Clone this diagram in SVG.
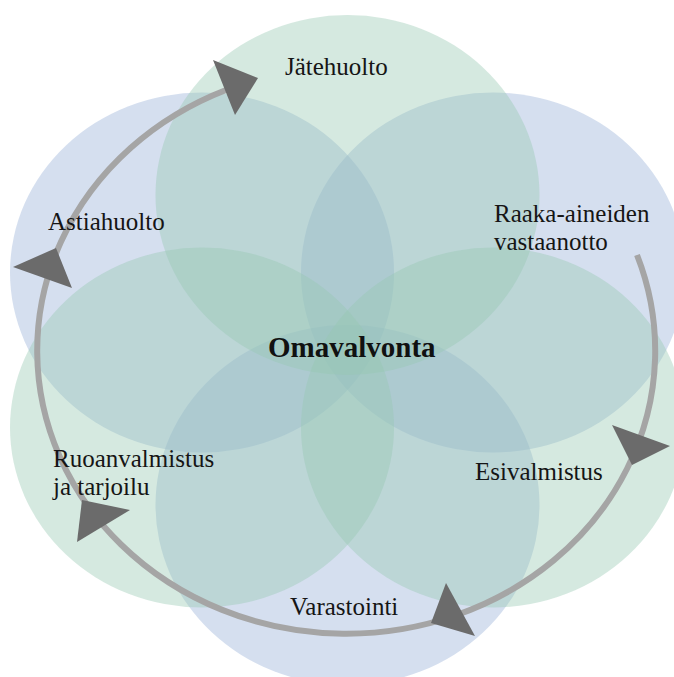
<svg xmlns="http://www.w3.org/2000/svg" width="674" height="677" viewBox="0 0 674 677">
<style>
.g{fill:#96c8b1;fill-opacity:0.4}
.b{fill:#96afd7;fill-opacity:0.4}
.lbl{font-family:"Liberation Serif","Times New Roman",serif;font-size:25px;fill:#151515}
.ctr{font-family:"Liberation Serif","Times New Roman",serif;font-size:29px;font-weight:bold;fill:#111}
.arc{fill:none;stroke:#a5a5a5;stroke-width:6}
.head{fill:#6b6b6b}
</style>
<rect width="674" height="677" fill="#ffffff"/>
<g id="shapes">
<g id="node-raaka"><ellipse class="b" cx="493" cy="272.5" rx="192" ry="180"/></g>
<g id="node-varastointi"><ellipse class="b" cx="347.5" cy="505" rx="192" ry="180"/></g>
<g id="node-astiahuolto"><ellipse class="b" cx="202" cy="272.5" rx="192" ry="180"/></g>
<g id="node-jatehuolto"><ellipse class="g" cx="347.5" cy="195" rx="192" ry="180"/></g>
<g id="node-esivalmistus"><ellipse class="g" cx="493" cy="427.5" rx="192" ry="180"/></g>
<g id="node-ruoanvalmistus"><ellipse class="g" cx="202" cy="427.5" rx="192" ry="180"/></g>
</g>
<g id="connectors">
<path class="arc" d="M637,255 A309,283 0 1 1 226,90"/>
<polygon class="head" points="213,60 258,78 235,115"/>
<polygon class="head" points="612,425 670,446 632,465"/>
<polygon class="head" points="446,583 475,636 431,623"/>
<polygon class="head" points="82,500 130,510 77,542"/>
<polygon class="head" points="13,267 56,248 72,288"/>
</g>
<g id="labels">
<text class="lbl" x="285" y="75">Jätehuolto</text>
<text class="lbl" x="48" y="230">Astiahuolto</text>
<text class="lbl" x="494" y="222">Raaka-aineiden</text>
<text class="lbl" x="494" y="250">vastaanotto</text>
<text class="lbl" x="53" y="467">Ruoanvalmistus</text>
<text class="lbl" x="53" y="495">ja tarjoilu</text>
<text class="lbl" x="475" y="480">Esivalmistus</text>
<text class="lbl" x="290" y="615">Varastointi</text>
<text id="center" class="ctr" x="268" y="357">Omavalvonta</text>
</g>
</svg>
